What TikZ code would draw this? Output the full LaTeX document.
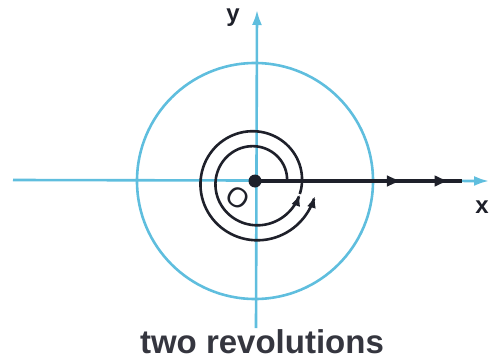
\documentclass[tikz,border=0pt]{standalone}
\usepackage{fontspec}
\setmainfont{Liberation Sans}
\usetikzlibrary{arrows.meta,decorations.markings}
\definecolor{axisblue}{RGB}{95,190,222}
\definecolor{ink}{RGB}{30,32,42}
\begin{document}
\begin{tikzpicture}[x=1pt,y=-1pt,
  axis/.style={axisblue,line width=2.6pt},
  curve/.style={ink,line width=2.6pt},
  bluetip/.style={-{Latex[length=15pt,width=10pt]}},
  lbl/.style={font=\fontsize{24}{26}\selectfont\bfseries,text=ink,inner sep=0pt}]
\useasboundingbox (0,0) rectangle (489,361);
\coordinate (O) at (255,181);
\coordinate (xl) at (13,180);
\coordinate (xr) at (489,181);
\coordinate (yb) at (256,328);
\coordinate (yt) at (257,10);
\coordinate (re) at (462,181);
% blue circle and axes
\draw[axis] (O) circle[radius=118];
\draw[axis,bluetip] (xl) -- (xr);
\draw[axis,bluetip] (yb) -- (yt);
% black ray with two arrowheads
\draw[ink,line width=3.6pt,
  decoration={markings,
    mark=at position 0.71 with {\arrow{Latex[length=15pt,width=12pt]}},
    mark=at position 0.94 with {\arrow{Latex[length=15pt,width=12pt]}}},
  postaction={decorate}] (O) -- (re);
\fill[ink] (O) circle[radius=6.5];
% spiral: two revolutions
\draw[curve,-{Latex[length=12pt,width=9pt]}] plot[domain=0:345,samples=90,smooth,variable=\t]
  ({255+(32+15*\t/360)*cos(\t)},{182-(32+15*\t/360)*sin(\t)});
\draw[curve,-{Latex[length=12pt,width=9pt]}] plot[domain=345:707,samples=90,smooth,variable=\t]
  ({255+(32+15*\t/360)*cos(\t)},{182-(32+15*\t/360)*sin(\t)});
% labels
\node[lbl] (ylabel) at (233,18) {y};
\node[lbl] (xlabel) at (482,207) {x};
\node[font=\fontsize{28}{30}\selectfont,text=ink,inner sep=0pt,rotate=-35] (olabel) at (238,198) {O};
\node[font=\fontsize{33}{38}\selectfont\bfseries,text=ink!90!white,inner sep=0pt,anchor=base] (caption) at (262,353) {two revolutions};
\end{tikzpicture}
\end{document}
